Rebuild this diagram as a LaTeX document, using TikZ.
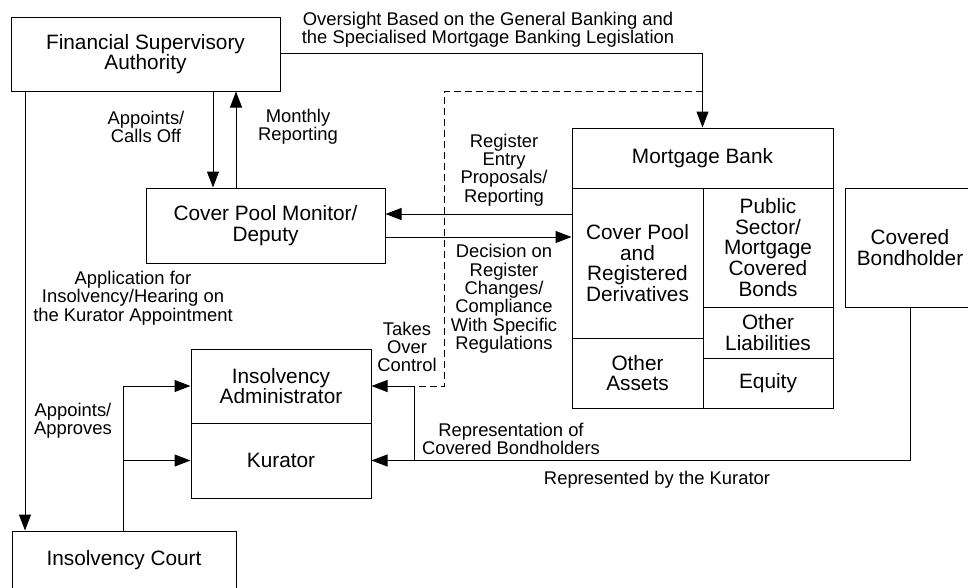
\documentclass[tikz,border=0pt]{standalone}
\usepackage{fontspec}
\setmainfont{Liberation Sans}
\usetikzlibrary{arrows.meta}
\newcommand\bxfont{\fontsize{20.8}{20.7}\selectfont}
\newcommand\lbfont{\fontsize{18.4}{18.4}\selectfont}
\tikzset{
  box/.style={draw, line width=1pt, inner sep=0pt, align=center, font=\bxfont},
  lbl/.style={align=center, font=\lbfont, inner sep=0pt},
  conn/.style={line width=1pt},
  arr/.style={line width=1pt, -{Triangle[length=16pt,width=12pt]}},
  dashline/.style={line width=1pt, dash pattern=on 7pt off 4pt},
}
\begin{document}
\begin{tikzpicture}[x=1pt,y=-1pt]
\useasboundingbox (0,0) rectangle (968,587);
\clip (0,0) rectangle (968,587);
% boxes
\node[box, minimum width=269pt, minimum height=74pt] (fsa) at (145.5,54) {Financial Supervisory\\Authority};
\node[box, minimum width=239pt, minimum height=75pt] (cpm) at (265.5,225.5) {Cover Pool Monitor/\\Deputy};
\node[box, minimum width=261pt, minimum height=60pt] (mb) at (702.5,158) {Mortgage Bank};
\node[box, minimum width=131pt, minimum height=150pt] (cp) at (637.5,263) {Cover Pool\\and\\Registered\\Derivatives};
\node[box, minimum width=131pt, minimum height=70pt] (oa) at (637.5,373) {Other\\Assets};
\node[box, minimum width=130pt, minimum height=119pt] (ps) at (768,247.5) {Public\\Sector/\\Mortgage\\Covered\\Bonds};
\node[box, minimum width=130pt, minimum height=51pt] (ol) at (768,332.5) {Other\\Liabilities};
\node[box, minimum width=130pt, minimum height=50pt] (eq) at (768,383) {Equity};
\node[box, minimum width=130pt, minimum height=119pt] (cb) at (910,247.5) {Covered\\Bondholder};
\node[box, minimum width=180pt, minimum height=74pt] (ia) at (281,386) {Insolvency\\Administrator};
\node[box, minimum width=180pt, minimum height=75pt] (ku) at (281,460.5) {Kurator};
\node[box, minimum width=224pt, minimum height=58pt] (ic) at (124,560) {Insolvency Court};
% junction coordinates
\coordinate (dk) at (444,386);
\coordinate (jn) at (414,386);
\coordinate (jk) at (414,460.5);
\coordinate (icj) at (123,531);
\coordinate (iaj) at (123,386);
\coordinate (kuj) at (123,460.5);
% connectors
\draw[arr] (213,0 |- fsa.south) -- (213,0 |- cpm.north);
\draw[arr] (236,0 |- cpm.north) -- (236,0 |- fsa.south);
\draw[arr] (fsa.east |- 0,53) -| (mb.north);
\draw[dashline] (mb.north |- 0,91) -| (dk) -- (jn);
\draw[arr] (cp.west |- 0,214) -- (cpm.east |- 0,214);
\draw[arr] (cpm.east |- 0,237) -- (cp.west |- 0,237);
\draw[arr] (cb.south) |- (ku.east);
\draw[arr] (jk) -- (jn) -- (ia.east);
\draw[arr] (25,0 |- fsa.south) -- (25,0 |- ic.north);
\draw[arr] (icj) -- (iaj) -- (ia.west);
\draw[arr] (kuj) -- (ku.west);
% labels
\node[lbl] (l1) at (488,30) {Oversight Based on the General Banking and\\the Specialised Mortgage Banking Legislation};
\node[lbl] (l2) at (146,127) {Appoints/\\Calls Off};
\node[lbl] (l3) at (298,127) {Monthly\\Reporting};
\node[lbl] (l4) at (504,170) {Register\\Entry\\Proposals/\\Reporting};
\node[lbl] (l5) at (504,299) {Decision on\\Register\\Changes/\\Compliance\\With Specific\\Regulations};
\node[lbl] (l6) at (133,298) {Application for\\Insolvency/Hearing on\\the Kurator Appointment};
\node[lbl] (l7) at (407,347) {Takes\\Over\\Control};
\node[lbl] (l8) at (73,421) {Appoints/\\Approves};
\node[lbl] (l9) at (511,439) {Representation of\\Covered Bondholders};
\node[lbl] (l10) at (657,480) {Represented by the Kurator};
\end{tikzpicture}
\end{document}
